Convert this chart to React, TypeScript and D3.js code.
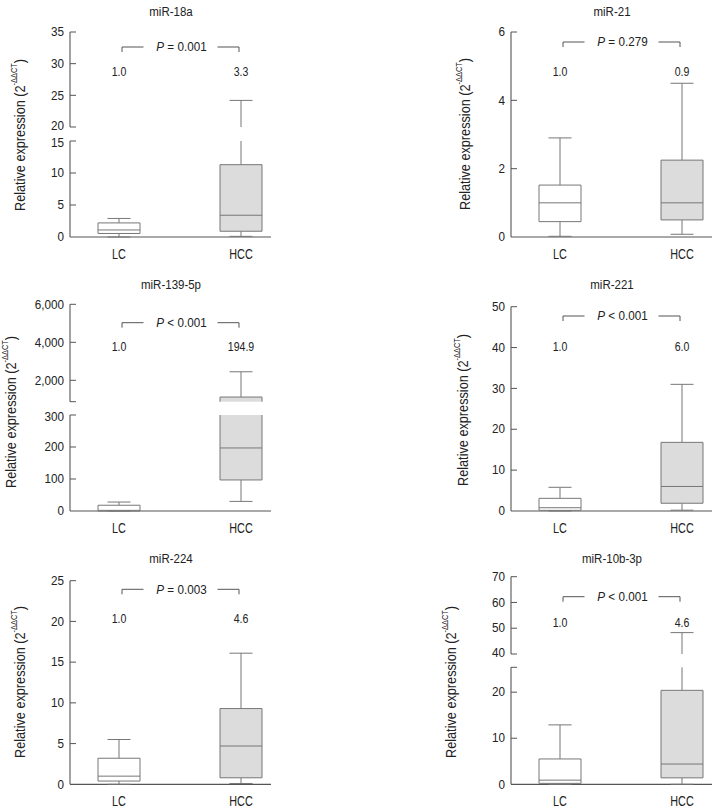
import React from "react";
import * as d3 from "d3";

// ---------- data ----------
const titles = ["miR-18a", "miR-21", "miR-139-5p", "miR-221", "miR-224", "miR-10b-3p"];
const groups = ["LC", "HCC"];
const pOps = ["=", "=", "<", "<", "=", "<"];
const pVals = ["0.001", "0.279", "0.001", "0.001", "0.003", "0.001"];
const lcFold = ["1.0", "1.0", "1.0", "1.0", "1.0", "1.0"];
const hccFold = ["3.3", "0.9", "194.9", "6.0", "4.6", "4.6"];
// [lower whisker, Q1, median, Q3, upper whisker]
const lcStats = [
  [0, 0.55, 1.1, 2.2, 2.9],
  [0.02, 0.45, 1.0, 1.52, 2.9],
  [0, 0, 2, 18, 28],
  [0, 0.15, 0.8, 3.1, 5.8],
  [0, 0.4, 1.0, 3.2, 5.5],
  [0, 0.2, 0.9, 5.5, 12.9],
];
const hccStats = [
  [0.1, 0.9, 3.4, 11.3, 24.2],
  [0.08, 0.5, 1.0, 2.25, 4.5],
  [30, 97, 197, 1120, 2450],
  [0.2, 1.9, 6.0, 16.8, 31],
  [0.1, 0.8, 4.7, 9.3, 16.1],
  [0, 1.4, 4.4, 20.4, 48.3],
];
const lowerDomains = [[0, 15], [0, 6], [0, 300], [0, 50], [0, 25], [0, 25.4]];
const upperDomains: (number[] | null)[] = [[20, 35], null, [875, 6000], null, null, [40, 70]];
const lowerTicks = [
  [0, 5, 10, 15],
  [0, 2, 4, 6],
  [0, 100, 200, 300],
  [0, 10, 20, 30, 40, 50],
  [0, 5, 10, 15, 20, 25],
  [0, 10, 20],
];
const upperTicks: (number[] | null)[] = [[20, 25, 30, 35], null, [2000, 4000, 6000], null, null, [40, 50, 60, 70]];

// ---------- layout ----------
const layout = [
  { ax: 70, base: 237, lowerTop: 141, upperBottom: 127, top: 32, titleY: 12, foldY: 72, bracketY: 47, ylabX: 20, ylabY: 135 },
  { ax: 511, base: 237, lowerTop: 32, upperBottom: 0, top: 0, titleY: 12, foldY: 72, bracketY: 42, ylabX: 465, ylabY: 134 },
  { ax: 70, base: 511, lowerTop: 415, upperBottom: 401.7, top: 304.3, titleY: 285, foldY: 347, bracketY: 322.7, ylabX: 11, ylabY: 412 },
  { ax: 511, base: 511, lowerTop: 306.7, upperBottom: 0, top: 0, titleY: 285, foldY: 347, bracketY: 316, ylabX: 463, ylabY: 410 },
  { ax: 70, base: 784.3, lowerTop: 580.7, upperBottom: 0, top: 0, titleY: 559, foldY: 618.3, bracketY: 589.3, ylabX: 20, ylabY: 682 },
  { ax: 511, base: 784.3, lowerTop: 667.3, upperBottom: 654, top: 576.7, titleY: 559, foldY: 622.3, bracketY: 596.7, ylabX: 451, ylabY: 682 },
];

const FONT = "'Liberation Sans', Arial, 'Roboto', sans-serif";
const AXIS = "#555";
const BOX = "#777";
const TEXT = "#222";
const fmt = d3.format(",");

function T({
  x,
  y,
  size,
  sx = 0.9,
  anchor = "middle",
  rotate = false,
  children,
}: {
  x: number;
  y: number;
  size: number;
  sx?: number;
  anchor?: string;
  rotate?: boolean;
  children: React.ReactNode;
}) {
  return (
    <text
      transform={`translate(${x},${y})${rotate ? " rotate(-90)" : ""} scale(${sx},1)`}
      textAnchor={anchor}
      dominantBaseline="central"
      fontSize={size}
      fill={TEXT}
    >
      {children}
    </text>
  );
}

type Seg = { scale: d3.ScaleLinear<number, number>; lo: number; hi: number; ticks: number[] };

function Panel({ i }: { i: number }) {
  const L = layout[i];
  const segs: Seg[] = [];
  const ld = lowerDomains[i];
  segs.push({
    scale: d3.scaleLinear().domain(ld).range([L.base, L.lowerTop]),
    lo: ld[0],
    hi: ld[1],
    ticks: lowerTicks[i],
  });
  const ud = upperDomains[i];
  if (ud) {
    segs.push({
      scale: d3.scaleLinear().domain(ud).range([L.upperBottom, L.top]),
      lo: ud[0],
      hi: ud[1],
      ticks: upperTicks[i] as number[],
    });
  }
  const broken = segs.length > 1;
  const xs = d3.scalePoint().domain(groups).range([L.ax + 49, L.ax + 171]);
  const boxW = 42;
  const capW = 23;
  const stats = [lcStats[i], hccStats[i]];
  const fills = ["#fff", "#dcdcdc"];
  const folds = [lcFold[i], hccFold[i]];
  const xEnd = L.ax + 201;

  const els: React.ReactNode[] = [];

  // y axis segments & ticks
  segs.forEach((s, si) => {
    els.push(<line key={`ax${si}`} x1={L.ax} x2={L.ax} y1={s.scale(s.lo)} y2={s.scale(s.hi)} stroke={AXIS} strokeWidth={1.1} />);
    const tickVals = Array.from(new Set([...s.ticks, s.lo, s.hi]));
    tickVals.forEach((t) => {
      const y = s.scale(t);
      if (si === 0 && t === 0) return;
      els.push(<line key={`t${si}-${t}`} x1={L.ax} x2={L.ax + 6} y1={y} y2={y} stroke={AXIS} strokeWidth={1} />);
    });
    s.ticks.forEach((t) => {
      let dy = 0;
      if (broken && si === 0 && t === s.hi) dy = 2;
      if (broken && si === 1 && t === s.lo) dy = -1.5;
      els.push(
        <T key={`tl${si}-${t}`} x={L.ax - 6} y={s.scale(t) + dy} size={13} sx={0.9} anchor="end">
          {fmt(t)}
        </T>
      );
    });
  });
  // x axis
  els.push(<line key="xax" x1={L.ax} x2={xEnd} y1={L.base} y2={L.base} stroke={AXIS} strokeWidth={1.2} />);

  // boxes
  groups.forEach((g, gi) => {
    const cx = xs(g) as number;
    const [wlo, q1, med, q3, whi] = stats[gi];
    segs.forEach((s, si) => {
      const clamp = (v: number) => Math.max(s.lo, Math.min(s.hi, v));
      const parts = [
        [wlo, q1],
        [q3, whi],
      ];
      parts.forEach(([a, b], pi) => {
        const ca = clamp(a),
          cb = clamp(b);
        if (cb > ca) {
          els.push(<line key={`w${gi}-${si}-${pi}`} x1={cx} x2={cx} y1={s.scale(ca)} y2={s.scale(cb)} stroke={BOX} strokeWidth={1} />);
        }
      });
      const b0 = clamp(q1),
        b1 = clamp(q3);
      if (b1 > b0) {
        const y0 = s.scale(b1),
          y1 = s.scale(b0);
        els.push(<rect key={`bf${gi}-${si}`} x={cx - boxW / 2} y={y0} width={boxW} height={y1 - y0} fill={fills[gi]} stroke="none" />);
        els.push(<line key={`bl${gi}-${si}`} x1={cx - boxW / 2} x2={cx - boxW / 2} y1={y0} y2={y1} stroke={BOX} strokeWidth={1} />);
        els.push(<line key={`br${gi}-${si}`} x1={cx + boxW / 2} x2={cx + boxW / 2} y1={y0} y2={y1} stroke={BOX} strokeWidth={1} />);
      }
      const hline = (v: number, k: string, w: number) => {
        if (v >= s.lo && v <= s.hi) {
          const y = s.scale(v);
          els.push(<line key={k} x1={cx - w / 2} x2={cx + w / 2} y1={y} y2={y} stroke={BOX} strokeWidth={1} />);
        }
      };
      hline(q1, `q1${gi}-${si}`, boxW);
      hline(q3, `q3${gi}-${si}`, boxW);
      hline(med, `md${gi}-${si}`, boxW);
      hline(wlo, `cl${gi}-${si}`, capW);
      hline(whi, `ch${gi}-${si}`, capW);
    });
    els.push(
      <T key={`cat${gi}`} x={cx} y={L.base + 17} size={15} sx={0.72}>
        {g}
      </T>
    );
    els.push(
      <T key={`fold${gi}`} x={cx} y={L.foldY} size={12} sx={0.88}>
        {folds[gi]}
      </T>
    );
  });

  // bracket
  const bx0 = (xs("LC") as number) + 3;
  const bx1 = (xs("HCC") as number) - 2;
  const bm = (bx0 + bx1) / 2;
  const gap = 37;
  els.push(
    <path
      key="br"
      d={`M${bx0},${L.bracketY + 5}V${L.bracketY}H${bm - gap}M${bm + gap},${L.bracketY}H${bx1}V${L.bracketY + 5}`}
      fill="none"
      stroke={AXIS}
      strokeWidth={1}
    />
  );
  els.push(
    <T key="p" x={bm + 1} y={L.bracketY} size={13} sx={0.9}>
      <tspan fontStyle="italic">P</tspan>
      {` ${pOps[i]} ${pVals[i]}`}
    </T>
  );

  // title
  els.push(
    <T key="title" x={L.ax + 101} y={L.titleY} size={12.5} sx={0.92}>
      {titles[i]}
    </T>
  );
  // y label
  els.push(
    <T key="ylab" x={L.ylabX} y={L.ylabY} size={15.5} sx={0.82} rotate>
      <tspan>Relative expression (2</tspan>
      <tspan fontSize={9} dy={-6}>
        -ΔΔCT
      </tspan>
      <tspan dy={6}>)</tspan>
    </T>
  );

  return <g>{els}</g>;
}

export default function App() {
  return (
    <svg
      width={719}
      height={810}
      viewBox="0 0 719 810"
      style={{ position: "absolute", left: 0, top: 0, background: "#fff", fontFamily: FONT }}
    >
      <rect x={0} y={0} width={719} height={810} fill="#fff" />
      {titles.map((_, i) => (
        <Panel key={i} i={i} />
      ))}
    </svg>
  );
}
